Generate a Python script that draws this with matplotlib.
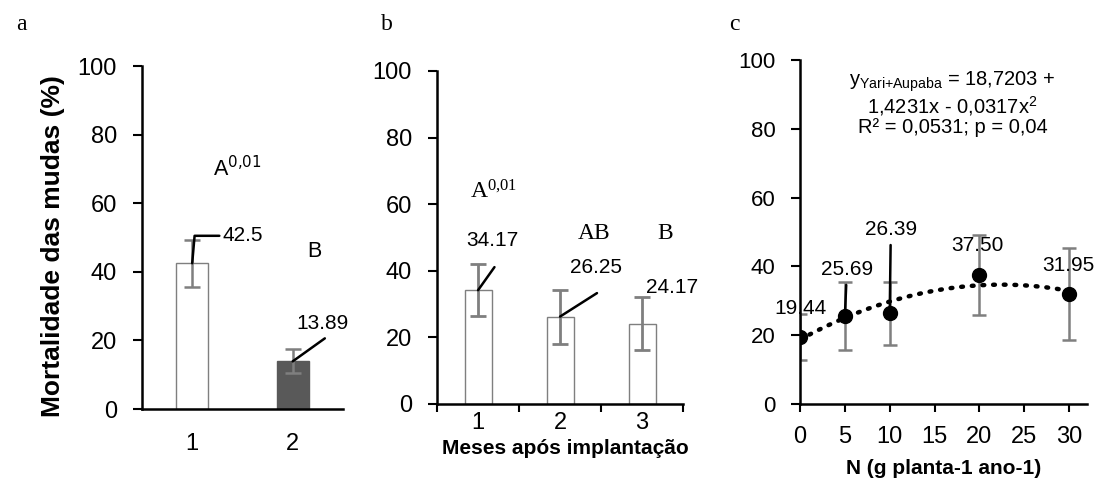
import numpy as np
import matplotlib
matplotlib.use('Agg')
import matplotlib.pyplot as plt

plt.rcParams['font.family'] = ['Liberation Sans', 'DejaVu Sans']

# (a) mortalidade por tratamento
cat_a = [1, 2]
mort_a = [42.5, 13.89]
err_a = [6.8, 3.5]
letras_a = ['A$^{0{,}01}$', 'B']

# (b) mortalidade por mês após implantação
cat_b = [1, 2, 3]
mort_b = [34.17, 26.25, 24.17]
err_b = [7.8, 8.1, 8.1]
letras_b = [r'$\mathregular{A^{0{,}01}}$', 'AB', 'B']

# (c) mortalidade x dose de N
dose_n = [0, 5, 10, 20, 30]
mort_c = [19.44, 25.69, 26.39, 37.50, 31.95]
err_c = [6.6, 9.9, 9.2, 11.6, 13.4]
coef_c = [18.7203, 1.4231, -0.0317]  # y = b0 + b1 x + b2 x^2

GRAY = '#7f7f7f'


def style_axes(ax, xticks_out=True, ylab=17, pad_y=11.5, pad_x=4):
    for s in ['top', 'right']:
        ax.spines[s].set_visible(False)
    for s in ['left', 'bottom']:
        ax.spines[s].set_linewidth(1.8)
        ax.spines[s].set_color('black')
    ax.set_ylim(0, 100)
    ax.set_yticks(range(0, 101, 20))
    ax.tick_params(axis='y', direction='out', length=6.5, width=1.5,
                   labelsize=ylab, pad=pad_y)
    ax.tick_params(axis='x', direction='out', length=6 if xticks_out else 0,
                   width=1.5, labelsize=17, pad=pad_x)


fig = plt.figure(figsize=(10.97, 4.79), dpi=100)

# ---- painel a ----
ax1 = fig.add_axes([0.1294, 0.1461, 0.1832, 0.7161])
ax1.bar(cat_a, mort_a, width=0.32, color=['white', '#595959'],
        edgecolor=[GRAY, '#595959'], linewidth=1)
ax1.errorbar(cat_a, mort_a, yerr=err_a, fmt='none', ecolor=GRAY,
             elinewidth=1.8, capsize=5.5, capthick=1.8)
ax1.set_xlim(0.5, 2.5)
ax1.set_xticks(cat_a)
style_axes(ax1, xticks_out=False, pad_x=17)
ax1.text(1.3, 50.5, '42.5', fontsize=15, ha='left', va='center')
ax1.annotate('', xy=(cat_a[0], mort_a[0]), xytext=(1.27, 50.5),
             arrowprops=dict(arrowstyle='-', lw=1.8, color='black',
                             shrinkA=0, shrinkB=0,
                             connectionstyle='angle,angleA=0,angleB=85,rad=0'))
ax1.text(2.3, 25, '13.89', fontsize=15, ha='center', va='center')
ax1.annotate('', xy=(cat_a[1], mort_a[1]), xytext=(2.32, 20.6),
             arrowprops=dict(arrowstyle='-', lw=1.8, color='black',
                             shrinkA=0, shrinkB=0))
ax1.text(1.45, 70, letras_a[0], fontsize=15.5, ha='center', va='center')
ax1.text(2.22, 46, letras_a[1], fontsize=15.5, ha='center', va='center')

# ---- painel b ----
ax2 = fig.add_axes([0.3984, 0.1566, 0.2243, 0.6952])
ax2.bar(cat_b, mort_b, width=0.33, color='white', edgecolor=GRAY, linewidth=1)
ax2.errorbar(cat_b, mort_b, yerr=err_b, fmt='none', ecolor=GRAY,
             elinewidth=2, capsize=5.5, capthick=2)
ax2.set_xlim(0.5, 3.5)
ax2.set_xticks(cat_b)
ax2.set_xticks([0.5, 1.5, 2.5, 3.5], minor=True)
style_axes(ax2, xticks_out=False, pad_x=5)
ax2.tick_params(axis='x', which='minor', direction='out', length=6, width=1.5)
ax2.tick_params(axis='x', which='major', pad=6)

pos_lab_b = [(1.17, 49.2), (2.44, 41.0), (3.37, 35.1)]
fim_linha_b = [(1.2, 41.1), (2.45, 33.3), None]
for xv, yv, (tx, ty), fim in zip(cat_b, mort_b, pos_lab_b, fim_linha_b):
    ax2.text(tx, ty, f'{yv:.2f}', fontsize=15, ha='center', va='center')
    if fim is not None:
        ax2.annotate('', xy=(xv, yv), xytext=fim,
                     arrowprops=dict(arrowstyle='-', lw=1.8, color='black',
                                     shrinkA=0, shrinkB=0))
for (tx, ty), lab in zip([(1.19, 63.7), (2.41, 51.3), (3.28, 51.3)], letras_b):
    ax2.text(tx, ty, lab, fontsize=17, ha='center', va='center',
             family='Liberation Serif')

# ---- painel c ----
ax3 = fig.add_axes([0.7293, 0.1566, 0.2616, 0.7182])
ax3.errorbar(dose_n, mort_c, yerr=err_c, fmt='none', ecolor=GRAY,
             elinewidth=1.8, capsize=5, capthick=1.8, zorder=2)
xx = np.linspace(0, 30, 200)
ax3.plot(xx, coef_c[0] + coef_c[1] * xx + coef_c[2] * xx ** 2, color='black',
         lw=3.2, linestyle=(0, (0.4, 2.0)), dash_capstyle='round', zorder=3)
ax3.plot(dose_n, mort_c, 'o', color='black', markersize=10, zorder=4)
ax3.set_xlim(0, 32)
ax3.set_xticks(range(0, 31, 5))
style_axes(ax3, xticks_out=True, ylab=16, pad_y=11)
ax3.tick_params(axis='x', labelsize=17, pad=10)

pos_lab_c = [(0.1, 27.9), (5.2, 39.0), (10.2, 50.6), (19.8, 46.2), (29.9, 40.4)]
for xv, yv, (tx, ty) in zip(dose_n, mort_c, pos_lab_c):
    ax3.text(tx, ty, f'{yv:.2f}', fontsize=15, ha='center', va='center',
             zorder=5, clip_on=False)
ax3.annotate('', xy=(dose_n[1], mort_c[1]), xytext=(5.15, 34.6),
             arrowprops=dict(arrowstyle='-', lw=1.8, color='black',
                             shrinkA=0, shrinkB=0))
ax3.annotate('', xy=(dose_n[2], mort_c[2]), xytext=(10.1, 46.2),
             arrowprops=dict(arrowstyle='-', lw=1.8, color='black',
                             shrinkA=0, shrinkB=0))

# equação ajustada em um bloco só
eq = (r'y$_{\mathregular{Yari{+}Aupaba}}$ = 18,7203 +' + '\n'
      + r'1,4231x - 0,0317x$^{\mathregular{2}}$' + '\n'
      + 'R² = 0,0531; p = 0,04')
ax3.text(17.0, 87.3, eq, fontsize=14.5, ha='center', va='center',
         multialignment='center', linespacing=1.0)

# rótulos dos eixos e letras dos painéis
fig.text(53 / 1097, 1 - 246 / 479, 'Mortalidade das mudas (%)', rotation=90,
         fontsize=19, fontweight='bold', ha='center', va='center')
fig.text(565 / 1097, 1 - 449 / 479, 'Meses após implantação', fontsize=15,
         fontweight='bold', ha='center', va='center')
fig.text(944 / 1097, 1 - 468 / 479, 'N (g planta-1 ano-1)', fontsize=15,
         fontweight='bold', ha='center', va='center')
for x, lab in [(21, 'a'), (387, 'b'), (734, 'c')]:
    fig.text(x / 1097, 1 - 25 / 479, lab, fontsize=17, ha='center',
             va='center', family='Liberation Serif')

fig.savefig('out.png', dpi=100)
